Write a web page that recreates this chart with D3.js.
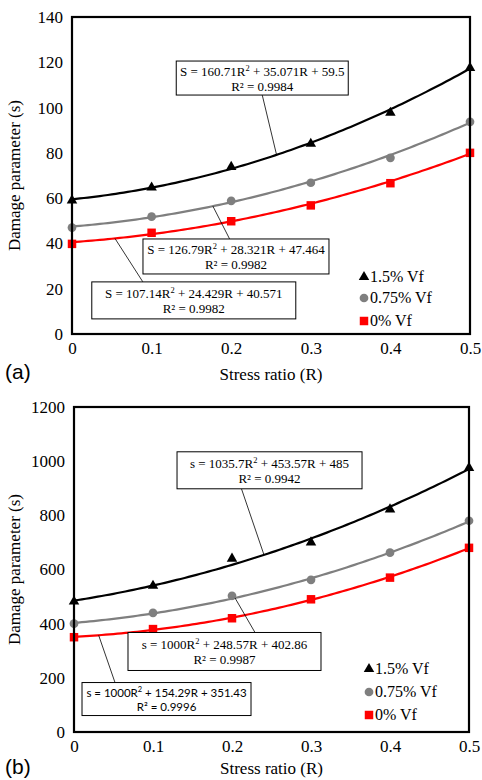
<!DOCTYPE html>
<html><head><meta charset="utf-8">
<script src="https://cdn.jsdelivr.net/npm/d3@7"></script>
<style>
html,body{margin:0;padding:0;background:#fff;}
svg{display:block;}
text{font-family:"Liberation Serif","Times New Roman",serif;fill:#000;}
</style></head>
<body>
<svg id="chart" width="482" height="780"></svg>
<script>
// ---------- data ----------
const stressRatio = [0, 0.1, 0.2, 0.3, 0.4, 0.5];
const seriesNames = ["1.5% Vf", "0.75% Vf", "0% Vf"];

// panel (a)
const aTicksY = [0, 20, 40, 60, 80, 100, 120, 140];
const aVf15  = [59, 64.7, 73.8, 84, 97.7, 117.5];
const aVf075 = [47, 51.8, 58.8, 66.8, 77.8, 93.7];
const aVf0   = [39.8, 44.7, 49.8, 56.8, 66.6, 80];
const aFitCoef15  = [160.71, 35.071, 59.5];
const aFitCoef075 = [126.79, 28.321, 47.464];
const aFitCoef0   = [107.14, 24.429, 40.571];
const aFitR2 = ["0.9984", "0.9982", "0.9982"];

// panel (b)
const bTicksY = [0, 200, 400, 600, 800, 1000, 1200];
const bVf15  = [482, 540, 640, 700, 822, 975];
const bVf075 = [400, 440, 503, 562, 662, 780];
const bVf0   = [350, 380, 420, 490, 570, 680];
const bFitCoef15  = [1035.7, 453.57, 485];
const bFitCoef075 = [1000, 248.57, 402.86];
const bFitCoef0   = [1000, 154.29, 351.43];
const bFitR2 = ["0.9942", "0.9987", "0.9996"];

const xTicks = [0, 0.1, 0.2, 0.3, 0.4, 0.5];

// ---------- styles ----------
const colors = ["#000000", "#7f7f7f", "#ff0000"];
const svg = d3.select("#chart");

function fmtEq(sym, c) {
  return [sym + " = " + c[0] + "R", "2", " + " + c[1] + "R + " + c[2]];
}

function panel(cfg) {
  const g = svg.append("g");
  const x = d3.scaleLinear().domain([0, 0.5]).range([cfg.left, cfg.right]);
  const y = d3.scaleLinear().domain([0, cfg.yMax]).range([cfg.bottom, cfg.top]);

  // y tick labels
  const yAxis = d3.axisLeft(y).tickValues(cfg.ticksY).tickSize(0).tickPadding(9).tickFormat(d3.format("d"));
  const ya = g.append("g").attr("transform", `translate(${cfg.left},0)`).call(yAxis);
  ya.select(".domain").remove();
  ya.selectAll("text").style("font-family", '"Liberation Serif",serif').style("font-size", "17px").attr("fill", "#000");

  const xAxis = d3.axisBottom(x).tickValues(xTicks).tickSize(0).tickPadding(8).tickFormat(d => d === 0 ? "0" : d3.format(".1f")(d));
  const xa = g.append("g").attr("transform", `translate(0,${cfg.bottom})`).call(xAxis);
  xa.select(".domain").remove();
  xa.selectAll("text").style("font-family", '"Liberation Serif",serif').style("font-size", "17px").attr("fill", "#000");

  // axis titles
  g.append("text").attr("x", (cfg.left + cfg.right) / 2).attr("y", cfg.bottom + cfg.titleDy)
    .attr("text-anchor", "middle").style("font-size", "17px").text("Stress ratio (R)");
  g.append("text").attr("transform", `translate(${cfg.ylabX},${(cfg.top + cfg.bottom) / 2}) rotate(-90)`)
    .attr("text-anchor", "middle").style("font-size", "17px").text("Damage parameter (s)");
  g.append("text").attr("x", 5).attr("y", cfg.bottom + cfg.tagDy)
    .style("font-family", '"Liberation Sans",Arial,sans-serif').style("font-size", "21px").text(cfg.tag);

  // fitted curves
  const samples = d3.range(0, 0.5001, 0.005);
  const line = d3.line().x(d => x(d[0])).y(d => y(d[1]));
  cfg.coefs.forEach((c, i) => {
    const pts = samples.map(r => [r, c[0] * r * r + c[1] * r + c[2]]);
    g.append("path").attr("d", line(pts)).attr("fill", "none")
      .attr("stroke", colors[i]).attr("stroke-width", 2.2);
  });

  // markers
  const sym = [d3.symbolTriangle, d3.symbolCircle, d3.symbolSquare];
  const sizes = [48, 60, 72];
  cfg.series.forEach((vals, i) => {
    g.append("g").selectAll("path").data(vals).join("path")
      .attr("transform", (d, j) => `translate(${x(stressRatio[j])},${y(d)})`)
      .attr("d", d3.symbol().type(sym[i]).size(sizes[i]))
      .attr("fill", colors[i]);
  });

  // frame
  g.append("rect").attr("x", cfg.left).attr("y", cfg.top)
    .attr("width", cfg.right - cfg.left).attr("height", cfg.bottom - cfg.top)
    .attr("fill", "none").attr("stroke", "#000").attr("stroke-width", 2.2);

  // equation annotation boxes
  cfg.notes.forEach((n) => {
    const c = cfg.coefs[n.series];
    const cx = x(n.at[0]), cy = y(n.at[1]);
    const w = n.w, h = n.h;
    // leader
    const r0 = n.lead[0];
    const yc = c[0] * r0 * r0 + c[1] * r0 + c[2];
    const edgeY = n.leadEnd === "top" ? cy - h / 2 - 1 : cy + h / 2 - 1;
    g.append("line").attr("x1", x(r0)).attr("y1", y(yc))
      .attr("x2", x(n.lead[1])).attr("y2", edgeY).attr("stroke", "#000").attr("stroke-width", 0.8);

    const ng = g.append("g");
    const fam = n.sans ? '"Lato","Open Sans",sans-serif' : '"Liberation Serif",serif';
    const fs = n.fs;
    ng.append("rect").attr("x", cx - w / 2).attr("y", cy - h / 2 - 1).attr("width", w).attr("height", h)
      .attr("fill", "#fff").attr("stroke", "#000").attr("stroke-width", 1);
    const t1 = ng.append("text").attr("x", cx).attr("y", cy - 3).attr("text-anchor", "middle")
      .style("font-family", fam).style("font-size", fs + "px");
    const parts = fmtEq(cfg.sym, c);
    t1.append("tspan").text(parts[0]);
    t1.append("tspan").attr("dy", -5).style("font-size", (fs * 0.65) + "px").text(parts[1]);
    t1.append("tspan").attr("dy", 5).text(parts[2]);
    ng.append("text").attr("x", cx).attr("y", cy + fs - 1).attr("text-anchor", "middle")
      .style("font-family", fam).style("font-size", fs + "px").text("R² = " + cfg.r2[n.series]);
  });

  // legend
  seriesNames.forEach((s, i) => {
    const ly = cfg.legY[i];
    g.append("path").attr("transform", `translate(${cfg.legX},${ly})`)
      .attr("d", d3.symbol().type(sym[i]).size(sizes[i])).attr("fill", colors[i]);
    g.append("text").attr("x", cfg.legX + 6).attr("y", ly + 5).style("font-size", "16px").text(s);
  });
}

panel({
  left: 72, right: 470, top: 17, bottom: 334, yMax: 140, ticksY: aTicksY,
  series: [aVf15, aVf075, aVf0], coefs: [aFitCoef15, aFitCoef075, aFitCoef0], r2: aFitR2, sym: "S",
  ylabX: 20, tag: "(a)", tagDy: 45, titleDy: 46,
  legX: 364, legY: [277, 298, 321],
  notes: [
    {series: 0, at: [0.239, 112.6], w: 172, h: 34, fs: 13, lead: [0.257, 0.239], leadEnd: "bottom"},
    {series: 1, at: [0.206, 33.8], w: 186, h: 35, fs: 13, lead: [0.177, 0.198], leadEnd: "top"},
    {series: 2, at: [0.153, 14.4], w: 204, h: 37, fs: 13, lead: [0.054, 0.089], leadEnd: "top"}
  ]
});

panel({
  left: 74, right: 469, top: 407, bottom: 732, yMax: 1200, ticksY: bTicksY,
  series: [bVf15, bVf075, bVf0], coefs: [bFitCoef15, bFitCoef075, bFitCoef0], r2: bFitR2, sym: "s",
  ylabX: 20, tag: "(b)", tagDy: 42, titleDy: 42,
  legX: 369, legY: [669, 692, 715],
  notes: [
    {series: 0, at: [0.2475, 962.6], w: 185, h: 37, fs: 13, lead: [0.2405, 0.212], leadEnd: "bottom"},
    {series: 1, at: [0.1905, 293.6], w: 193, h: 38, fs: 13, lead: [0.2038, 0.2291], leadEnd: "top"},
    {series: 2, at: [0.1171, 118], w: 169, h: 33, fs: 11.5, lead: [0.0312, 0.0519], leadEnd: "top", sans: true}
  ]
});
</script>
</body></html>
